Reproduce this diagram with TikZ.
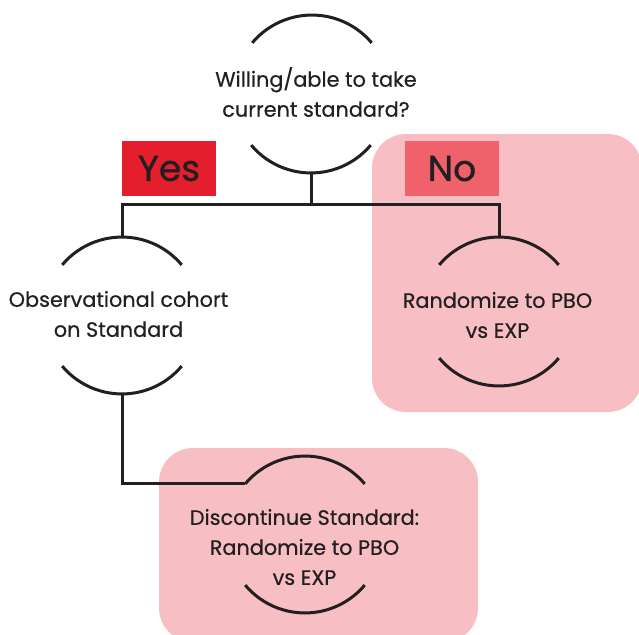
\documentclass[tikz,border=0pt]{standalone}
\usepackage{fontspec}
\setmainfont{Poppins}
\newfontface\capfont{Poppins}[FakeBold=0.5]
\newfontface\tagfont{Poppins}[FakeBold=0.9]
\definecolor{ink}{HTML}{231F20}
\definecolor{boxpink}{HTML}{F7BFC4}
\definecolor{yesred}{HTML}{E41E2D}
\definecolor{nored}{HTML}{EF626C}
\tikzset{
  caption/.style={font=\capfont\fontsize{20.8}{30}\selectfont, text=ink, align=center, inner sep=0pt},
  tag/.style={font=\tagfont\fontsize{36}{36}\selectfont, text=ink, minimum width=94pt, minimum height=55pt, inner sep=0pt},
  wire/.style={draw=ink, line width=3pt},
  panel/.style={fill=boxpink, rounded corners=34pt},
}
% upper and lower arcs of a decision circle, given by their apex points
\newcommand{\toparc}[1]{\draw[wire] (#1) ++(-59.8,27.9) arc[start angle=220, end angle=320, radius=78];}
\newcommand{\botarc}[1]{\draw[wire] (#1) ++(-59.8,-27.9) arc[start angle=140, end angle=40, radius=78];}
\begin{document}
\begin{tikzpicture}[x=1pt,y=-1pt]
\useasboundingbox (0,0) rectangle (639,634);

% shaded regions for the randomised arms
\fill[panel] (372,134) rectangle (642,412);
\fill[panel] (159,448) rectangle (478,642);

% answer tags
\node[tag, fill=yesred] (yes) at (169,168.5) {Yes};
\node[tag, fill=nored] (no) at (452,168.5) {No};

% decision: willing / able to take standard
\node[caption] (q) at (316,92) {Willing/able to take\\current standard?};
\coordinate (q-top) at (312,15);
\coordinate (q-bot) at (311,173);
\toparc{q-top}
\botarc{q-bot}

% observational arm
\node[caption] (l) at (118.5,314) {Observational cohort\\on Standard};
\coordinate (l-top) at (122,237);
\coordinate (l-bot) at (122,394);
\toparc{l-top}
\botarc{l-bot}

% randomised arm (not willing)
\node[caption] (r) at (497.5,315) {Randomize to PBO\\vs EXP};
\coordinate (r-top) at (499,237);
\coordinate (r-bot) at (499,386);
\toparc{r-top}
\botarc{r-bot}

% discontinuation arm
\node[caption] (d) at (304.5,547) {Discontinue Standard:\\Randomize to PBO\\vs EXP};
\coordinate (d-top) at (305,456);
\coordinate (d-bot) at (305,613);
\coordinate (d-in) at (245.2,483.9);
\toparc{d-top}
\botarc{d-bot}

% connectors
\coordinate (fork) at (311,204);
\draw[wire] (q-bot) -- (fork);
\draw[wire] (l-top) |- (fork) -| (r-top);
\draw[wire] (l-bot) |- (d-in);
\end{tikzpicture}
\end{document}
